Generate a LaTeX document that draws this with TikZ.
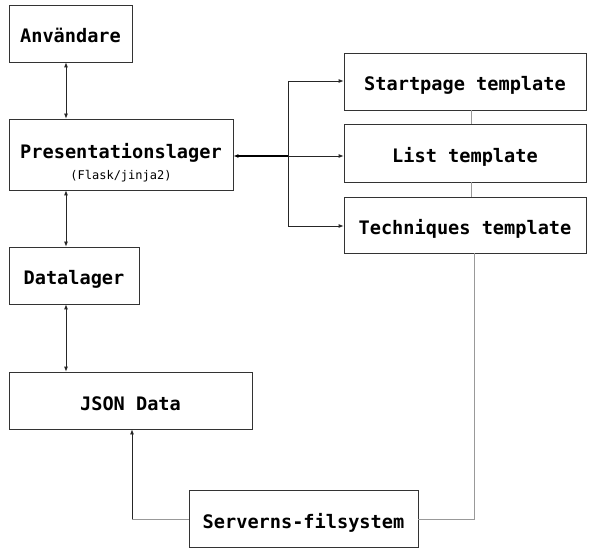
\documentclass[tikz,border=0pt]{standalone}
\usepackage{fontspec}
\setmonofont{DejaVu Sans Mono}
\usetikzlibrary{arrows.meta}
\begin{document}
\begin{tikzpicture}[x=1pt,y=-1pt,
  box/.style={draw=black!80,line width=0.8pt,fill=white,rectangle,inner sep=0pt,
    text height=19pt,text depth=0pt,
    font=\ttfamily\bfseries\fontsize{18.6}{20}\selectfont},
  lbl/.style={inner sep=0pt,anchor=base,font=\ttfamily\bfseries\fontsize{18.6}{20}\selectfont},
  sub/.style={inner sep=0pt,anchor=base,font=\ttfamily\fontsize{12}{14}\selectfont},
  conn/.style={line width=0.8pt,black!85},
  thick conn/.style={line width=1.5pt,black},
  grayline/.style={line width=1pt,black!40},
  tip/.style={-{Latex[length=5pt,width=4pt]}},
  tips/.style={{Latex[length=5pt,width=4pt]}-{Latex[length=5pt,width=4pt]}}]
\useasboundingbox (0,0) rectangle (603,556);

\coordinate (g1) at (474,519);

% boxes
\node[box,minimum width=123pt,minimum height=57pt] (anv) at (70.5,33.5) {Användare};
\node[box,minimum width=224pt,minimum height=71pt] (pres) at (121,154.5) {};
\node[lbl] (prestxt) at (121,158.3) {Presentationslager};
\node[sub] (flask) at (121,180) {(Flask/jinja2)};
\node[box,minimum width=130pt,minimum height=57pt] (data) at (74,275.5) {Datalager};
\node[box,minimum width=243pt,minimum height=57pt] (json) at (130.5,400.5) {JSON Data};
\node[box,minimum width=229pt,minimum height=57pt] (serv) at (303.5,518.5) {Serverns-filsystem};
\node[box,minimum width=242pt,minimum height=57pt] (start) at (465,81.5) {Startpage template};
\node[box,minimum width=242pt,minimum height=58pt] (list) at (465,153) {List template};
\node[box,minimum width=242pt,minimum height=56pt] (tech) at (465,225) {Techniques template};

% gray links between templates and to file system
\draw[grayline] (start.south -| 471,0) -- (list.north -| 471,0);
\draw[grayline] (list.south -| 471,0) -- (tech.north -| 471,0);
\draw[grayline] (tech.south -| g1) -- (g1) -- (serv.east |- g1);

% vertical double arrows
\draw[conn,tips] (anv.south -| 66,0) -- (pres.north -| 66,0);
\draw[conn,tips] (pres.south -| 66,0) -- (data.north -| 66,0);
\draw[conn,tips] (data.south -| 66,0) -- (json.north -| 66,0);

% branch to templates
\coordinate (jn) at (288,156);
\coordinate (jt) at (288,81);
\coordinate (jb) at (288,226);
\draw[thick conn,{Latex[length=5pt,width=4pt]}-] (pres.east |- jn) -- (jn);
\draw[conn] (jt) -- (jb);
\draw[conn,tip] (jt) -- (start.west |- jt);
\draw[conn,tip] (jn) -- (list.west |- jn);
\draw[conn,tip] (jb) -- (tech.west |- jb);

% file system to JSON
\coordinate (fj) at (132,519);
\draw[grayline] (serv.west |- fj) -- (fj);
\draw[conn,tip] (fj) -- (json.south -| fj);
\end{tikzpicture}
\end{document}
